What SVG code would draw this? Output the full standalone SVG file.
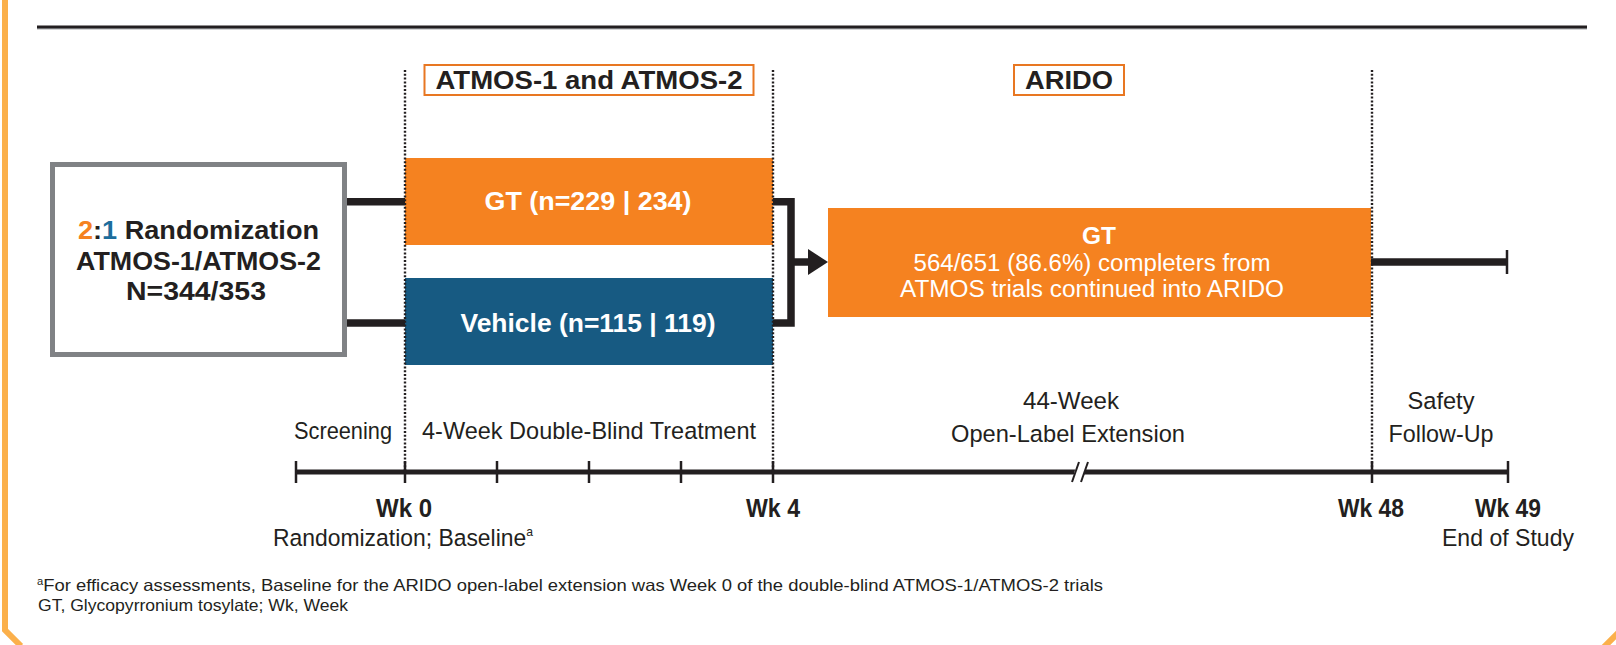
<svg xmlns="http://www.w3.org/2000/svg" width="1616" height="645" viewBox="0 0 1616 645">
<style>
.t{font-family:"Liberation Sans",Arial,Helvetica,sans-serif;fill:#231f20}
.b{font-weight:bold}
.w{fill:#ffffff}
.n{font-size:24.5px}
.bl{font-size:25px;font-weight:bold}
.fn{font-size:16.5px}
.dot{stroke:#231f20;stroke-width:2.4;stroke-dasharray:2 1.8;fill:none}
.thick{stroke:#231f20;stroke-width:7.5;fill:none}
.tick{stroke:#231f20;stroke-width:2.5}
.lab{fill:#ffffff;stroke:#e87722;stroke-width:2}
</style>
<defs>
<marker id="ah" markerUnits="userSpaceOnUse" markerWidth="22" markerHeight="28" refX="1" refY="13" orient="auto">
<path d="M0,0 L20,13 L0,26 Z" fill="#231f20"/>
</marker>
</defs>
<rect width="1616" height="645" fill="#ffffff"/>
<!-- frame -->
<path d="M5,0 V630 L21,646" fill="none" stroke="#fbb04b" stroke-width="6"/>
<path d="M1602,649 L1620,631" fill="none" stroke="#fbb04b" stroke-width="6"/>
<!-- rule -->
<rect x="37" y="25.5" width="1550" height="2.6" fill="#231f20"/>
<rect x="37" y="28" width="1550" height="1.3" fill="#6d6e71"/>

<!-- phase label boxes -->
<g id="label-atmos">
<rect class="lab" x="424.5" y="65" width="329" height="30"/>
<text class="t bl" x="589" y="88.5" text-anchor="middle" textLength="307" lengthAdjust="spacingAndGlyphs">ATMOS-1 and ATMOS-2</text>
</g>
<g id="label-arido">
<rect class="lab" x="1014" y="65" width="110" height="30"/>
<text class="t bl" x="1069" y="88.5" text-anchor="middle" textLength="88" lengthAdjust="spacingAndGlyphs">ARIDO</text>
</g>

<!-- nodes -->
<g id="node-randomization">
<rect x="52.5" y="164.5" width="292" height="190" fill="#ffffff" stroke="#808285" stroke-width="5"/>
<text class="t bl" x="198.5" y="239" text-anchor="middle" textLength="241" lengthAdjust="spacingAndGlyphs"><tspan fill="#f58220">2</tspan>:<tspan fill="#1c6d9c">1</tspan> Randomization</text>
<text class="t bl" x="198.5" y="270" text-anchor="middle" textLength="245" lengthAdjust="spacingAndGlyphs">ATMOS-1/ATMOS-2</text>
<text class="t bl" x="196" y="300" text-anchor="middle" textLength="140" lengthAdjust="spacingAndGlyphs">N=344/353</text>
</g>
<g id="node-gt">
<rect x="405" y="158" width="368" height="87" fill="#f58220"/>
<text class="t bl w" x="588" y="210" text-anchor="middle" textLength="207" lengthAdjust="spacingAndGlyphs">GT (n=229 | 234)</text>
</g>
<g id="node-vehicle">
<rect x="405" y="278" width="368" height="87" fill="#175a82"/>
<text class="t bl w" x="588" y="332" text-anchor="middle" textLength="255" lengthAdjust="spacingAndGlyphs">Vehicle (n=115 | 119)</text>
</g>
<g id="node-arido-gt">
<rect x="828" y="208" width="543" height="109" fill="#f58220"/>
<text class="t w" x="1099" y="244" text-anchor="middle" font-size="23" font-weight="bold" textLength="34" lengthAdjust="spacingAndGlyphs">GT</text>
<text class="t w" x="1092" y="271" text-anchor="middle" font-size="23.5" textLength="357" lengthAdjust="spacingAndGlyphs">564/651 (86.6%) completers from</text>
<text class="t w" x="1092" y="297" text-anchor="middle" font-size="23.5" textLength="384" lengthAdjust="spacingAndGlyphs">ATMOS trials continued into ARIDO</text>
</g>

<!-- connectors -->
<g id="connectors">
<path class="thick" d="M347,201.7 H405"/>
<path class="thick" d="M347,323 H405"/>
<path class="thick" d="M773,201.7 H791 V323 H773" stroke-linejoin="miter"/>
<path class="thick" d="M791,262 H809" marker-end="url(#ah)"/>
<path class="thick" d="M1371,262 H1507"/>
<line class="tick" x1="1507" y1="250" x2="1507" y2="274"/>
</g>

<!-- dotted phase dividers -->
<g id="dividers">
<line class="dot" x1="405" y1="70" x2="405" y2="470"/>
<line class="dot" x1="773" y1="70" x2="773" y2="470"/>
<line class="dot" x1="1372" y1="70" x2="1372" y2="470"/>
</g>

<!-- timeline -->
<g id="timeline">
<line x1="296" y1="472" x2="1508" y2="472" stroke="#231f20" stroke-width="5"/>
<polygon points="1073,478 1076,466 1086,466 1083,478" fill="#ffffff"/>
<line x1="1072" y1="482" x2="1079" y2="462" stroke="#231f20" stroke-width="2"/>
<line x1="1081" y1="482" x2="1088" y2="462" stroke="#231f20" stroke-width="2"/>
<line class="tick" x1="296" y1="461" x2="296" y2="483"/>
<line class="tick" x1="405" y1="461" x2="405" y2="483"/>
<line class="tick" x1="497" y1="461" x2="497" y2="483"/>
<line class="tick" x1="589" y1="461" x2="589" y2="483"/>
<line class="tick" x1="681" y1="461" x2="681" y2="483"/>
<line class="tick" x1="773" y1="461" x2="773" y2="483"/>
<line class="tick" x1="1372" y1="461" x2="1372" y2="483"/>
<line class="tick" x1="1508" y1="461" x2="1508" y2="483"/>
</g>

<!-- phase labels -->
<g id="phase-labels">
<text class="t n" x="343" y="439" text-anchor="middle" textLength="98" lengthAdjust="spacingAndGlyphs">Screening</text>
<text class="t n" x="589" y="439" text-anchor="middle" textLength="334" lengthAdjust="spacingAndGlyphs">4-Week Double-Blind Treatment</text>
<text class="t n" x="1071" y="409" text-anchor="middle" textLength="96" lengthAdjust="spacingAndGlyphs">44-Week</text>
<text class="t n" x="1068" y="442" text-anchor="middle" textLength="234" lengthAdjust="spacingAndGlyphs">Open-Label Extension</text>
<text class="t n" x="1441" y="409" text-anchor="middle" textLength="67" lengthAdjust="spacingAndGlyphs">Safety</text>
<text class="t n" x="1441" y="442" text-anchor="middle" textLength="105" lengthAdjust="spacingAndGlyphs">Follow-Up</text>
</g>

<!-- week labels -->
<g id="week-labels">
<text class="t bl" x="404" y="517" text-anchor="middle" textLength="56" lengthAdjust="spacingAndGlyphs">Wk 0</text>
<text class="t n" x="273" y="546" textLength="260" lengthAdjust="spacingAndGlyphs">Randomization; Baseline<tspan font-size="13" dy="-10">a</tspan></text>
<text class="t bl" x="773" y="517" text-anchor="middle" textLength="54" lengthAdjust="spacingAndGlyphs">Wk 4</text>
<text class="t bl" x="1371" y="517" text-anchor="middle" textLength="66" lengthAdjust="spacingAndGlyphs">Wk 48</text>
<text class="t bl" x="1508" y="517" text-anchor="middle" textLength="66" lengthAdjust="spacingAndGlyphs">Wk 49</text>
<text class="t n" x="1508" y="546" text-anchor="middle" textLength="132" lengthAdjust="spacingAndGlyphs">End of Study</text>
</g>

<!-- footnotes -->
<g id="footnotes">
<text class="t fn" x="37" y="591" textLength="1066" lengthAdjust="spacingAndGlyphs"><tspan font-size="10" dy="-6">a</tspan><tspan dy="6">For efficacy assessments, Baseline for the ARIDO open-label extension was Week 0 of the double-blind ATMOS-1/ATMOS-2 trials</tspan></text>
<text class="t fn" x="38" y="611" textLength="310" lengthAdjust="spacingAndGlyphs">GT, Glycopyrronium tosylate; Wk, Week</text>
</g>
</svg>
